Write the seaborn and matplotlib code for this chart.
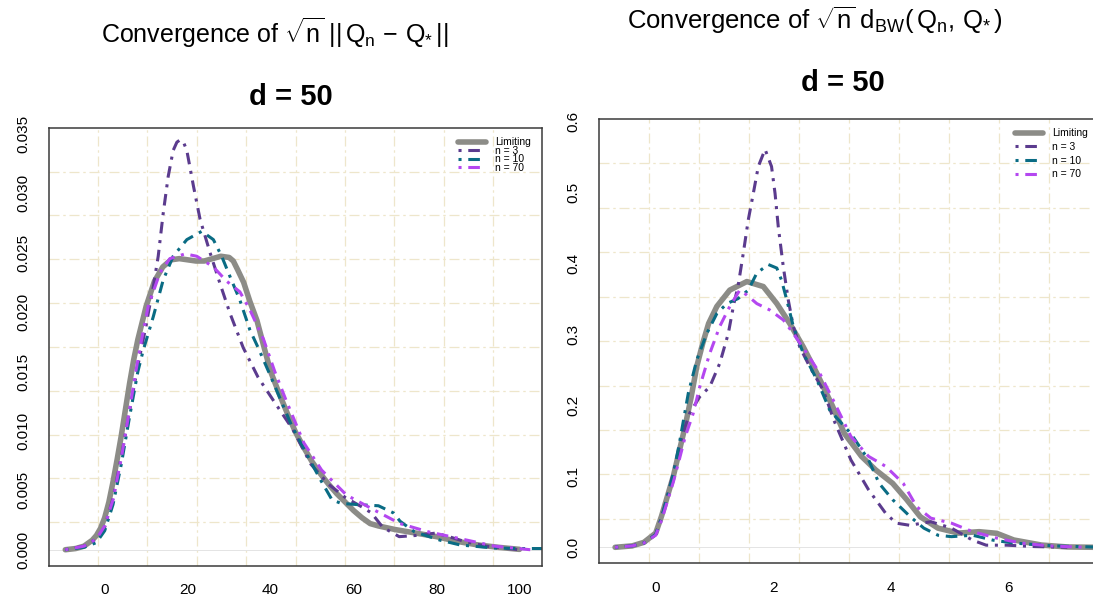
import numpy as np
import seaborn as sns
import matplotlib
matplotlib.use("Agg")
import matplotlib.pyplot as plt

# ---- left panel: sqrt(n)||Q_n - Q*|| densities ----
norm_lim_x = [-9.5, -7, -5, -3, -2, -1, 0, 1, 2, 3, 4, 5, 6, 7, 8, 10, 12, 14, 16, 18, 20, 22, 24, 26, 28,
              30, 31, 32, 33.5, 35, 36.7, 38.3, 40, 42, 44, 46, 48, 50, 52, 54, 56, 58, 60, 62, 64, 66,
              70, 75, 80, 85, 90, 95, 100]
norm_lim_y = [0, 0.0001, 0.0003, 0.0008, 0.0012, 0.0018, 0.0027, 0.0040, 0.0057, 0.0076, 0.0096, 0.0118,
              0.014, 0.016, 0.0177, 0.0205, 0.0226, 0.0238, 0.0244, 0.0245, 0.0244, 0.0243, 0.0243, 0.0245,
              0.0247, 0.0246, 0.0243, 0.0236, 0.0225, 0.0209, 0.0193, 0.0172, 0.0150, 0.0132, 0.0115,
              0.0099, 0.0086, 0.0074, 0.0064, 0.0055, 0.0047, 0.0040, 0.0033, 0.0027, 0.0022, 0.0020,
              0.0017, 0.0014, 0.0011, 0.0007, 0.0004, 0.0002, 0.00003]

norm_n3_x = [-9.5, -5, -2, 0, 2, 4, 6, 8, 10, 10.5, 11.7, 12.9, 14.1, 15.3, 16.5, 17.4, 18.2, 19, 19.8,
             21.4, 23, 25.4, 27.8, 30.2, 33.4, 37, 40.6, 45.4, 49.7, 54, 58, 62, 64.3, 67, 71, 75,
             79.8, 83, 86.7, 92, 97, 100]
norm_n3_y = [0, 0.0003, 0.0009, 0.0019, 0.0043, 0.0078, 0.0117, 0.0155, 0.0189, 0.0199, 0.0221, 0.0247,
             0.0283, 0.0314, 0.0336, 0.0343, 0.0345, 0.0343, 0.0336, 0.0306, 0.0278, 0.0250, 0.0224,
             0.0199, 0.0170, 0.0145, 0.0126, 0.0101, 0.0072, 0.0055, 0.0044, 0.0036, 0.0031, 0.0019,
             0.0011, 0.0012, 0.0014, 0.0011, 0.0007, 0.0003, 0.0001, 0.0]

norm_n10_x = [-9.5, -5, -2, 0, 2, 4, 6, 8, 9.3, 11.7, 14.1, 16.5, 19.8, 23.4, 26.2, 28.2, 30.2, 32.6,
              35, 37, 40, 45, 50, 52, 54.8, 57, 60.9, 66, 69.6, 71.2, 74.7, 80.9, 85.7, 93.7, 100, 105.5]
norm_n10_y = [0, 0.0002, 0.0006, 0.0016, 0.0038, 0.0072, 0.0112, 0.0150, 0.0168, 0.0196, 0.0227,
              0.0247, 0.0261, 0.0268, 0.0261, 0.0247, 0.0230, 0.0210, 0.0185, 0.0170, 0.0146, 0.0105,
              0.0072, 0.0059, 0.0042, 0.0039, 0.0038, 0.0037, 0.0031, 0.0024, 0.0015, 0.0008, 0.0004,
              0.00015, 0.0001, 0.0001]

norm_n70_x = [-9.5, -5, -2, 0, 2, 4, 6, 7.5, 8.9, 10.5, 13.3, 15.7, 19.4, 22.2, 26.2, 29.4, 32.6, 35,
              38.3, 41, 43.7, 48, 52.3, 58.3, 65.2, 71.2, 78.1, 86.1, 94, 102.6]
norm_n70_y = [0, 0.0003, 0.0009, 0.0020, 0.0042, 0.0077, 0.0118, 0.0150, 0.0177, 0.0205, 0.0233, 0.0245,
              0.0249, 0.0247, 0.0238, 0.0226, 0.0217, 0.0202, 0.0177, 0.0150, 0.0126, 0.0090, 0.0067,
              0.0046, 0.0033, 0.0022, 0.0015, 0.0009, 0.0003, 0.0]

# ---- right panel: sqrt(n) d_BW(Q_n, Q*) densities ----
bw_lim_x = [-0.69, -0.4, -0.2, 0, 0.1, 0.2, 0.3, 0.4, 0.5, 0.6, 0.7, 0.8, 0.9, 1.04, 1.26, 1.55, 1.83,
            2.06, 2.28, 2.51, 2.74, 3.0, 3.21, 3.5, 3.74, 4.03, 4.27, 4.5, 4.8, 5.15, 5.5, 5.8, 6.09,
            6.56, 7.0, 7.5]
bw_lim_y = [0, 0.002, 0.007, 0.020, 0.044, 0.072, 0.100, 0.135, 0.170, 0.210, 0.255, 0.287, 0.315,
            0.339, 0.362, 0.374, 0.367, 0.343, 0.315, 0.282, 0.245, 0.200, 0.160, 0.128, 0.109, 0.090,
            0.067, 0.043, 0.027, 0.020, 0.022, 0.0197, 0.0103, 0.0032, 0.0005, 0.0]

bw_n3_x = [-0.69, -0.4, -0.2, 0, 0.1, 0.2, 0.3, 0.4, 0.5, 0.58, 0.75, 0.92, 1.09, 1.235, 1.33, 1.40,
           1.49, 1.575, 1.66, 1.745, 1.86, 1.97, 2.03, 2.085, 2.17, 2.255, 2.34, 2.45, 2.62, 2.85, 3.03,
           3.32, 3.62, 3.91, 4.09, 4.32, 4.68, 5.03, 5.39, 5.62, 5.97, 6.45, 7.0]
bw_n3_y = [0, 0.002, 0.006, 0.018, 0.042, 0.072, 0.105, 0.140, 0.170, 0.189, 0.212, 0.226, 0.259, 0.301,
           0.343, 0.367, 0.414, 0.461, 0.498, 0.536, 0.560, 0.536, 0.498, 0.451, 0.395, 0.348, 0.311,
           0.282, 0.254, 0.221, 0.179, 0.123, 0.081, 0.048, 0.034, 0.031, 0.036, 0.027, 0.010, 0.003,
           0.003, 0.001, 0.0]

bw_n10_x = [-0.69, -0.4, -0.2, 0, 0.1, 0.2, 0.3, 0.4, 0.555, 0.70, 0.87, 1.04, 1.21, 1.40, 1.575, 1.72,
            1.915, 2.06, 2.14, 2.23, 2.34, 2.51, 2.74, 2.96, 3.32, 3.62, 3.80, 4.03, 4.33, 4.56, 4.80,
            5.03, 5.39, 5.74, 6.09, 6.76, 7.46]
bw_n10_y = [0, 0.002, 0.006, 0.018, 0.042, 0.072, 0.103, 0.145, 0.217, 0.264, 0.301, 0.329, 0.343,
            0.350, 0.362, 0.386, 0.398, 0.393, 0.376, 0.348, 0.311, 0.273, 0.236, 0.193, 0.160, 0.123,
            0.090, 0.067, 0.043, 0.027, 0.017, 0.015, 0.017, 0.010, 0.006, 0.002, 0.0004]

bw_n70_x = [-0.69, -0.4, -0.2, 0, 0.1, 0.2, 0.3, 0.4, 0.5, 0.64, 0.75, 0.92, 1.09, 1.26, 1.43, 1.55,
            1.72, 1.94, 2.17, 2.34, 2.57, 2.79, 3.02, 3.32, 3.62, 3.91, 4.21, 4.44, 4.68, 5.03, 5.39,
            5.8, 6.21, 6.68, 7.3]
bw_n70_y = [0, 0.002, 0.006, 0.017, 0.038, 0.065, 0.092, 0.123, 0.155, 0.189, 0.226, 0.273, 0.311,
            0.339, 0.362, 0.355, 0.343, 0.334, 0.320, 0.301, 0.273, 0.245, 0.207, 0.156, 0.128, 0.114,
            0.090, 0.057, 0.041, 0.034, 0.022, 0.013, 0.006, 0.002, 0.0]

labels = ["Limiting", "n = 3", "n = 10", "n = 70"]
colors = ["#8C8C87", "#5B3B8E", "#0A6C84", "#B447F0"]

sns.set_theme(style="white")
plt.rcParams["font.family"] = ["Liberation Sans", "DejaVu Sans"]
plt.rcParams["text.color"] = "black"
plt.rcParams["mathtext.fontset"] = "custom"
plt.rcParams["mathtext.rm"] = "Liberation Sans"
plt.rcParams["mathtext.it"] = "Liberation Sans:italic"
plt.rcParams["mathtext.bf"] = "Liberation Sans:bold"
plt.rcParams["mathtext.default"] = "regular"

fig = plt.figure(figsize=(10.93, 6.05), dpi=100)
ax1 = fig.add_axes([0.04456, 0.06446, 0.4516, 0.72446])
ax2 = fig.add_axes([0.54803, 0.06893, 0.45746, 0.73438])

dotdash = (0, (1, 2.2, 3.8, 2.2))


def draw_panel(ax, series, xlim, ylim, xticks, yticks, yfmt, leg_spacing, leg_anchor):
    ax.set_xlim(*xlim)
    ax.set_ylim(*ylim)
    # R style grid(10, 10) across the plotting region
    for f in np.linspace(0, 1, 11)[1:-1]:
        ax.axvline(xlim[0] + f * (xlim[1] - xlim[0]), color="#EEE6CB", lw=0.9,
                   linestyle=(0, (8, 3, 2, 3)), zorder=0)
        ax.axhline(ylim[0] + f * (ylim[1] - ylim[0]), color="#EEE6CB", lw=0.9,
                   linestyle=(0, (8, 3, 2, 3)), zorder=0)
    ax.axhline(0, color="#E4E4E4", lw=0.7, zorder=0.5)

    for i, (xs, ys) in enumerate(series):
        if i == 0:
            sns.lineplot(x=xs, y=ys, ax=ax, color=colors[i], lw=4.0, label=labels[i],
                         solid_capstyle="round", solid_joinstyle="round")
        else:
            sns.lineplot(x=xs, y=ys, ax=ax, color=colors[i], lw=2.2, label=labels[i],
                         linestyle=dotdash)

    ax.set_xticks(xticks)
    ax.set_yticks(yticks)
    ax.set_yticklabels([yfmt.format(v) for v in yticks], rotation=90, va="center")
    ax.tick_params(axis="both", direction="out", length=6.5, width=0.9, color="#333333",
                   labelsize=11, labelcolor="black")
    ax.tick_params(axis="x", pad=6)
    ax.tick_params(axis="y", pad=7)
    for sp in ax.spines.values():
        sp.set_visible(True)
        sp.set_color("#3A3A3A")
        sp.set_linewidth(1.1)
    ax.set_xlabel("")
    ax.set_ylabel("")
    leg = ax.legend(loc="upper left", bbox_to_anchor=leg_anchor, frameon=False, fontsize=7.5,
                    borderpad=0, borderaxespad=0, handlelength=2.7, handletextpad=0.85,
                    labelspacing=leg_spacing)
    for t in leg.get_texts():
        t.set_color("black")


draw_panel(ax1,
           [(norm_lim_x, norm_lim_y), (norm_n3_x, norm_n3_y),
            (norm_n10_x, norm_n10_y), (norm_n70_x, norm_n70_y)],
           (-13.5, 105.5), (-0.00137, 0.03552),
           [0, 20, 40, 60, 80, 100],
           [0.0, 0.005, 0.010, 0.015, 0.020, 0.025, 0.030, 0.035], "{:.3f}",
           -0.15, (0.829, 0.978))

draw_panel(ax2,
           [(bw_lim_x, bw_lim_y), (bw_n3_x, bw_n3_y),
            (bw_n10_x, bw_n10_y), (bw_n70_x, bw_n70_y)],
           (-0.964, 7.539), (-0.0225, 0.6028),
           [0, 2, 4, 6],
           [0.0, 0.1, 0.2, 0.3, 0.4, 0.5, 0.6], "{:.1f}",
           0.35, (0.832, 0.979))

fig.text(0.2516, 0.9294, r"Convergence of $\sqrt{n}\;||\,Q_n\,-\,Q_{*}\,||$", ha="center",
         va="baseline", fontsize=18, color="black")
fig.text(0.2658, 0.8264, "d = 50", ha="center", va="baseline", fontsize=21, fontweight="bold",
         color="black")
fig.text(0.7457, 0.952, r"Convergence of $\sqrt{n}\;d_{BW}(\,Q_n,\,Q_{*}\,)$", ha="center",
         va="baseline", fontsize=18.5, color="black")
fig.text(0.7713, 0.8496, "d = 50", ha="center", va="baseline", fontsize=21, fontweight="bold",
         color="black")

fig.savefig("out.png", dpi=100, facecolor="white")
